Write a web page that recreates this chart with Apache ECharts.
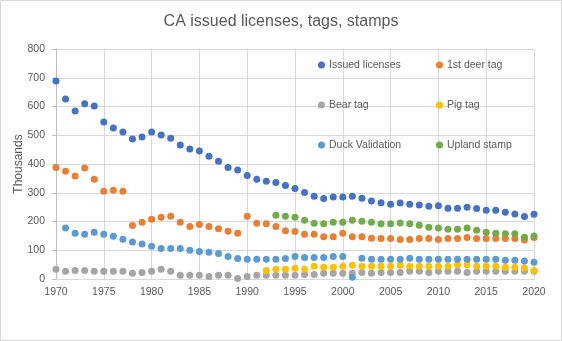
<!DOCTYPE html>
<html><head><meta charset="utf-8">
<script src="https://cdn.jsdelivr.net/npm/echarts@6/dist/echarts.min.js"></script>
<style>html,body{margin:0;padding:0;background:#fff}#c{width:562px;height:341px}</style>
</head><body><div id="c"></div>
<script>
const years = [1970,1971,1972,1973,1974,1975,1976,1977,1978,1979,1980,1981,1982,1983,1984,1985,1986,1987,1988,1989,1990,1991,1992,1993,1994,1995,1996,1997,1998,1999,2000,2001,2002,2003,2004,2005,2006,2007,2008,2009,2010,2011,2012,2013,2014,2015,2016,2017,2018,2019,2020];
const issuedLicenses = [689,626,584,610,602,546,525,511,487,494, 511,501,490,466,452,445,427,410,388,379, 360,347,340,336,325,315,301,288,280,285, 285,288,281,271,265,260,264,260,257,253, 255,246,246,250,245,239,239,232,226,217,225];
const deerTag = [388,375,358,386,347,305,309,305,186,197, 208,215,218,197,183,190,183,175,166,159, 218,194,192,183,168,165,156,156,147,147, 159,147,147,142,141,141,137,137,141,141, 137,141,141,144,141,141,141,141,141,136,144];
const bearTag = [34,27,30,30,27,27,27,27,20,23, 27,34,27,13,13,13,9,13,13,2, 9,13,13,13,13,13,16,16,20,20, 20,20,23,20,23,23,23,27,27,23, 27,27,27,23,27,27,27,27,27,27,27];
const pigTag = [null,null,null,null,null,null,null,null,null,null, null,null,null,null,null,null,null,null,null,null, null,null,30,34,34,37,34,44,41,41, 44,48,44,44,44,44,48,44,44,44, 44,44,50,50,44,44,44,41,41,38,30];
const duckValidation = [null,177,159,156,163,156,149,138,129,122, 114,106,106,106,100,96,93,89,78,71, 69,69,69,69,71,78,75,75,75,78, 78,6,72,69,69,69,69,72,69,69, 69,69,69,69,69,69,69,65,65,63,58];
const uplandStamp = [null,null,null,null,null,null,null,null,null,null, null,null,null,null,null,null,null,null,null,null, null,null,null,222,218,215,204,194,192,197, 197,204,201,197,192,192,195,192,187,180, 177,173,173,177,170,163,159,157,157,145,150];
const yTicks = [0,100,200,300,400,500,600,700,800];
const xTicks = [1970,1975,1980,1985,1990,1995,2000,2005,2010,2015,2020];

const seriesDefs = [
  ['Issued licenses', issuedLicenses, '#4472C4'],
  ['1st deer tag', deerTag, '#ED7D31'],
  ['Bear tag', bearTag, '#A5A5A5'],
  ['Pig tag', pigTag, '#FFC000'],
  ['Duck Validation', duckValidation, '#5B9BD5'],
  ['Upland stamp', uplandStamp, '#70AD47']
];
const FONT = 'Liberation Sans';
const TXT = '#595959';
const series = seriesDefs.map(([name, vals, color]) => ({
  name, type: 'scatter', symbol: 'circle', symbolSize: 7,
  itemStyle: { color, opacity: 1 },
  emphasis: { disabled: true },
  data: years.map((y, i) => vals[i] == null ? null : [y, vals[i]]).filter(d => d)
}));
const legendBase = {
  orient: 'vertical', top: 58, padding: 0, itemGap: 26, itemWidth: 7, itemHeight: 7,
  icon: 'circle', selectedMode: false,
  textStyle: { color: TXT, fontFamily: FONT, fontSize: 10.5, lineHeight: 14, padding: [0,0,0,-1] }
};
const chart = echarts.init(document.getElementById('c'), null, { renderer: 'canvas' });
chart.setOption({
  animation: false,
  backgroundColor: '#fff',
  title: { text: 'CA issued licenses, tags, stamps', left: 'center', top: 9,
    textStyle: { color: TXT, fontFamily: FONT, fontSize: 16, fontWeight: 'normal' } },
  legend: [
    Object.assign({}, legendBase, { left: 318, data: ['Issued licenses', 'Bear tag', 'Duck Validation'] }),
    Object.assign({}, legendBase, { left: 436, data: ['1st deer tag', 'Pig tag', 'Upland stamp'] })
  ],
  grid: { left: 56, right: 28, top: 49, bottom: 62, containLabel: false },
  xAxis: {
    type: 'value', min: xTicks[0], max: xTicks[xTicks.length-1], interval: 5,
    axisLine: { show: true, lineStyle: { color: '#d9d9d9' } },
    axisTick: { show: false },
    splitLine: { show: true, lineStyle: { color: '#d9d9d9' } },
    axisLabel: { color: TXT, fontFamily: FONT, fontSize: 10.5, margin: 8, formatter: v => String(v) }
  },
  yAxis: {
    type: 'value', min: yTicks[0], max: yTicks[yTicks.length-1], interval: 100,
    name: 'Thousands', nameLocation: 'middle', nameRotate: 90, nameGap: 31, nameMoveOverlap: false,
    nameTextStyle: { color: TXT, fontFamily: FONT, fontSize: 12 },
    axisLine: { show: true, lineStyle: { color: '#bfbfbf' } },
    axisTick: { show: true, length: 4, lineStyle: { color: '#bfbfbf' } },
    splitLine: { show: true, lineStyle: { color: '#d9d9d9' } },
    axisLabel: { color: TXT, fontFamily: FONT, fontSize: 10.5, margin: 11 }
  },
  graphic: [{ type: 'rect', shape: { x: 0.5, y: 0.5, width: 561, height: 340 },
    style: { fill: 'none', stroke: '#d9d9d9', lineWidth: 1 }, silent: true }],
  series
});
</script></body></html>
